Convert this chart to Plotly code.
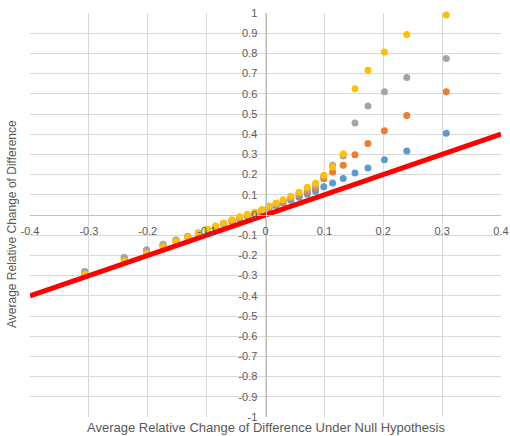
import plotly.graph_objects as go

# x values shared by all series
x_vals = [-0.307, -0.240, -0.202, -0.174, -0.152, -0.132, -0.114, -0.099, -0.085, -0.071,
          -0.057, -0.044, -0.031, -0.018, -0.006, 0.006, 0.018, 0.030, 0.043, 0.057,
          0.071, 0.085, 0.099, 0.114, 0.132, 0.152, 0.174, 0.202, 0.240, 0.307]

blue_y = [-0.280, -0.211, -0.175, -0.147, -0.125, -0.106, -0.090, -0.074, -0.060, -0.045,
          -0.031, -0.017, -0.005, 0.008, 0.020, 0.033, 0.047, 0.060, 0.073, 0.088,
          0.103, 0.118, 0.140, 0.159, 0.181, 0.208, 0.233, 0.273, 0.317, 0.405]

orange_y = [-0.290, -0.222, -0.185, -0.153, -0.128, -0.108, -0.091, -0.073, -0.058, -0.043,
            -0.028, -0.014, -0.002, 0.010, 0.023, 0.037, 0.051, 0.065, 0.080, 0.096,
            0.114, 0.132, 0.180, 0.213, 0.246, 0.298, 0.354, 0.417, 0.493, 0.610]

gray_y = [-0.280, -0.212, -0.172, -0.145, -0.124, -0.105, -0.089, -0.072, -0.057, -0.042,
          -0.026, -0.012, 0.000, 0.012, 0.025, 0.041, 0.056, 0.071, 0.087, 0.105,
          0.126, 0.146, 0.190, 0.246, 0.292, 0.456, 0.540, 0.610, 0.681, 0.775]

yellow_y = [-0.295, -0.228, -0.190, -0.157, -0.130, -0.108, -0.090, -0.070, -0.055, -0.040,
            -0.023, -0.009, 0.003, 0.014, 0.027, 0.045, 0.060, 0.076, 0.093, 0.113,
            0.137, 0.157, 0.197, 0.238, 0.302, 0.625, 0.717, 0.807, 0.894, 0.990]

# reference line y = x
ref_x = [-0.4, 0.4]
ref_y = [-0.4, 0.4]

x_tickvals = [-0.4, -0.3, -0.2, -0.1, 0, 0.1, 0.2, 0.3, 0.4]
x_ticktext = ["-0.4", "-0.3", "-0.2", "-0.1", "0", "0.1", "0.2", "0.3", "0.4"]
y_tickvals = [-1, -0.9, -0.8, -0.7, -0.6, -0.5, -0.4, -0.3, -0.2, -0.1, 0,
              0.1, 0.2, 0.3, 0.4, 0.5, 0.6, 0.7, 0.8, 0.9, 1]
y_ticktext = ["-1", "-0.9", "-0.8", "-0.7", "-0.6", "-0.5", "-0.4", "-0.3", "-0.2", "-0.1", "0",
              "0.1", "0.2", "0.3", "0.4", "0.5", "0.6", "0.7", "0.8", "0.9", "1"]

x_title = "Average Relative Change of Difference Under Null Hypothesis"
y_title = "Average Relative Change of Difference"

FONT = "Liberation Sans"
TXT = "#595959"
GRID = "#D9D9D9"

fig = go.Figure()
series = [(blue_y, "#5B9BD5"), (orange_y, "#ED7D31"), (gray_y, "#A5A5A5"), (yellow_y, "#FFC000")]
for ys, col in series:
    fig.add_trace(go.Scatter(x=x_vals, y=ys, mode="markers",
                             marker=dict(color=col, size=7, line=dict(width=0)),
                             showlegend=False, cliponaxis=False))
fig.add_trace(go.Scatter(x=ref_x, y=ref_y, mode="lines",
                         line=dict(color="#FF0000", width=5), showlegend=False))

fig.update_layout(
    width=510, height=436,
    margin=dict(l=30, r=9, t=13, b=19, autoexpand=False),
    paper_bgcolor="white", plot_bgcolor="white",
    font=dict(family=FONT, size=11, color=TXT),
    xaxis=dict(range=[-0.4, 0.4], tickvals=x_tickvals, ticktext=x_ticktext,
               showgrid=True, gridcolor=GRID, gridwidth=1, zeroline=False,
               showline=True, linecolor="#BFBFBF", linewidth=1, automargin=False,
               anchor="free", position=0.5, ticks="", ticklabelstandoff=6,
               ticklabeloverflow="allow",
               tickfont=dict(family=FONT, size=11, color=TXT)),
    yaxis=dict(range=[-1, 1], tickvals=y_tickvals, ticktext=y_ticktext,
               showgrid=True, gridcolor=GRID, gridwidth=1, zeroline=False,
               showline=True, linecolor="#BFBFBF", linewidth=1, automargin=False,
               anchor="free", position=0.5, ticks="", ticklabelstandoff=6,
               ticklabeloverflow="allow",
               tickfont=dict(family=FONT, size=11, color=TXT)),
    annotations=[
        dict(text=x_title, xref="paper", yref="paper", x=0.5, y=-0.027,
             xanchor="center", yanchor="middle", showarrow=False,
             font=dict(family=FONT, size=13, color=TXT)),
        dict(text=y_title, xref="paper", yref="paper", x=-0.038, y=0.478,
             xanchor="center", yanchor="middle", showarrow=False, textangle=-90,
             font=dict(family=FONT, size=12, color=TXT)),
    ],
)

fig.write_html("out.html", config={"displayModeBar": False},
               post_script="document.body.style.margin='0';document.body.style.padding='0';")
